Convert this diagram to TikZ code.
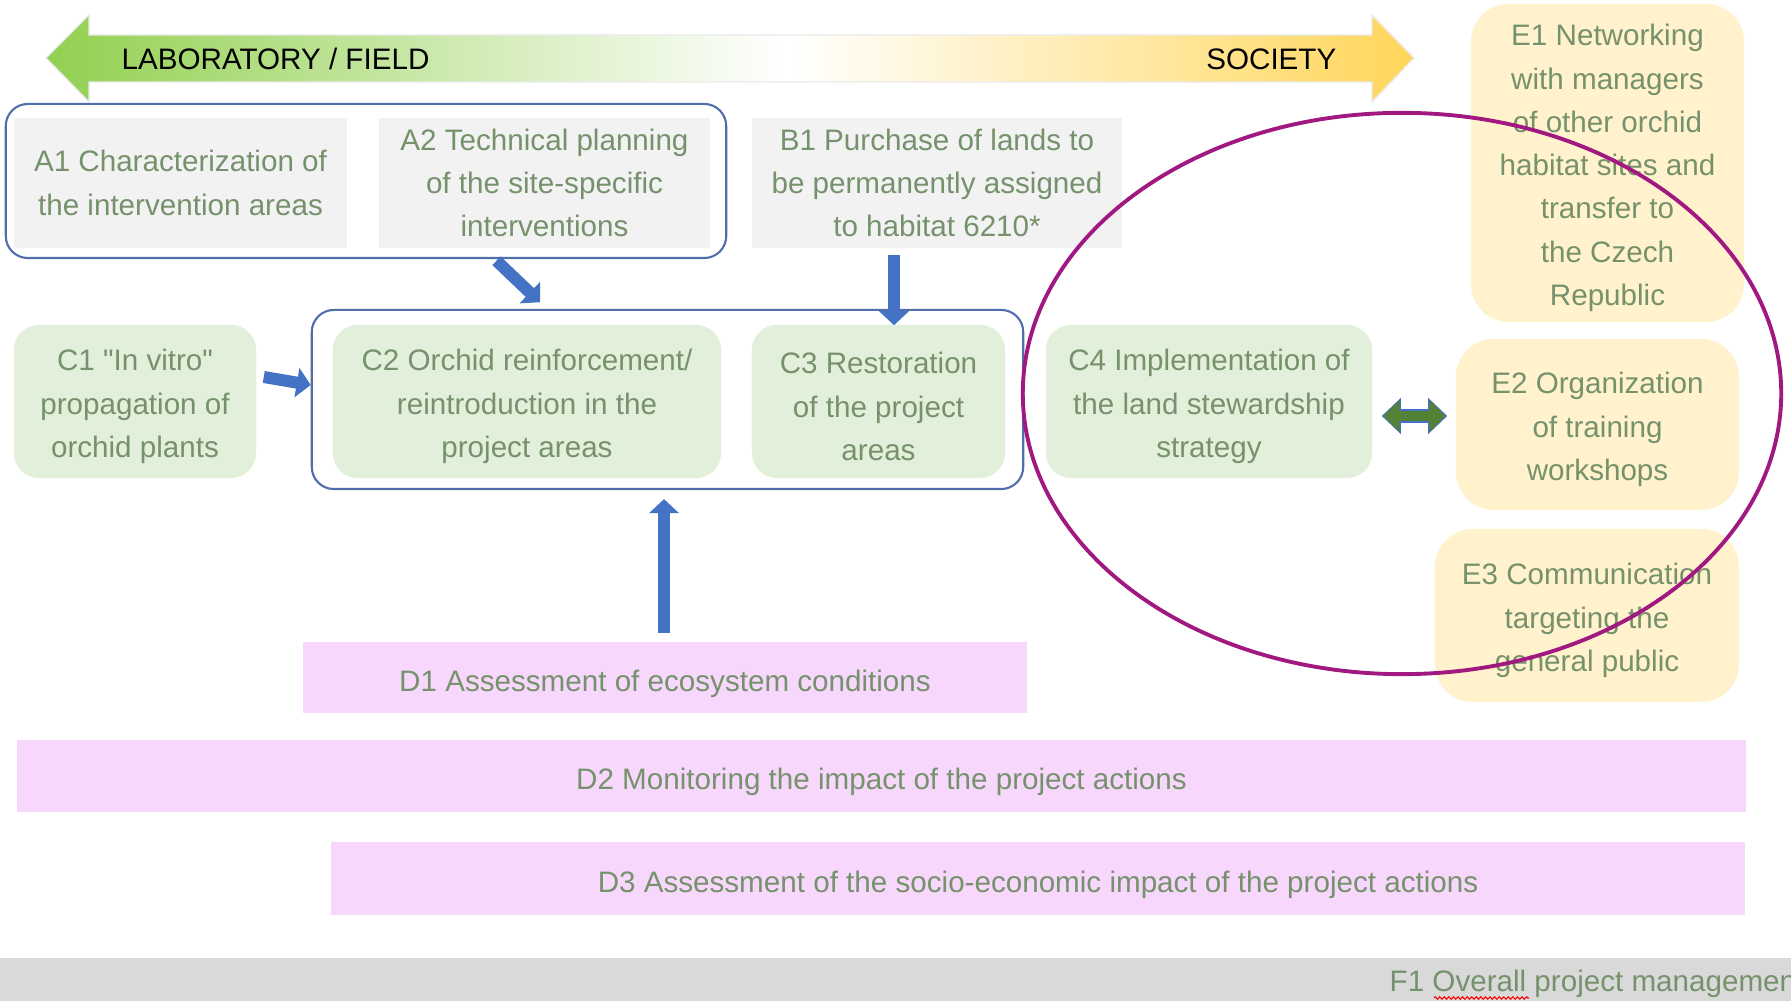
\documentclass[tikz,border=0pt]{standalone}
\usepackage{fontspec}
\setmainfont{Liberation Sans}
\usepackage{tikz}
\usetikzlibrary{calc}
\usetikzlibrary{arrows.meta}
\usetikzlibrary{decorations.pathmorphing}

\definecolor{txtgreen}{RGB}{118,146,108}
\definecolor{greyfill}{RGB}{242,242,242}
\definecolor{cfill}{RGB}{226,239,218}
\definecolor{efill}{RGB}{255,242,204}
\definecolor{dfill}{RGB}{247,215,252}
\definecolor{footgrey}{RGB}{217,217,217}
\definecolor{linkblue}{RGB}{68,114,196}
\definecolor{frameblue}{RGB}{80,110,170}
\definecolor{darkgreen}{RGB}{84,130,53}
\definecolor{ringpurple}{RGB}{160,24,128}
\definecolor{labgreen}{RGB}{146,208,80}
\definecolor{socyellow}{RGB}{255,214,90}

\pgfdeclarehorizontalshading{labsociety}{100bp}{color(0bp)=(labgreen); color(25bp)=(labgreen); color(52bp)=(white); color(75bp)=(socyellow); color(100bp)=(socyellow)}

\newcommand{\boxlift}{\rule{0pt}{9pt}}

\tikzset{
  box/.style={align=center, inner sep=0pt, text=txtgreen, font=\fontsize{8.42pt}{12.3pt}\selectfont},
  abox/.style={box, fill=greyfill},
  cbox/.style={box, fill=cfill, rounded corners=0.25cm},
  ebox/.style={box, fill=efill, rounded corners=0.38cm},
  dbox/.style={box, fill=dfill, execute at begin node={\rule{0pt}{9.5pt}}},
  group/.style={draw=frameblue, line width=0.6pt, rounded corners=0.22cm, inner sep=0pt},
  blockarrow/.style={draw=linkblue, line width=0.12cm, -{Triangle[length=0.14cm, width=0.29cm]}},
}

\begin{document}
\begin{tikzpicture}[x=0.01cm, y=-0.01cm]

\fill[white] (0,0) rectangle (1791,1001);
\useasboundingbox (0,0) rectangle (1791,1001);

% banner
\shade[shading=labsociety, draw=black!8] (46,58) -- (89,15) -- (89,35) -- (1372,35) -- (1372,15) -- (1414,58) -- (1372,102) -- (1372,82) -- (89,82) -- (89,102) -- cycle;
\node[box, text=black, anchor=base west] (lab) at (121,70) {LABORATORY / FIELD};
\node[box, text=black, anchor=base east] (soc) at (1337,70) {SOCIETY};

% groups
\node[group, minimum width=7.2cm, minimum height=1.54cm] (grpA) at (366,181) {};
\node[group, minimum width=7.11cm, minimum height=1.79cm] (grpC) at (667.5,399.5) {};

\node[abox, minimum width=3.33cm, minimum height=1.3cm] (A1) at (180.5,183) {A1 Characterization of\\the intervention areas};
\node[abox, minimum width=3.31cm, minimum height=1.3cm] (A2) at (544.5,183) {A2 Technical planning\\of the site-specific\\interventions};
\node[abox, minimum width=3.7cm, minimum height=1.3cm] (B1) at (937,183) {B1 Purchase of lands to\\be permanently assigned\\to habitat 6210*};

\node[cbox, minimum width=2.42cm, minimum height=1.53cm] (C1) at (135,401.5) {\boxlift C1 \textquotedbl In vitro\textquotedbl\\propagation of\\orchid plants};
\node[cbox, minimum width=3.88cm, minimum height=1.53cm] (C2) at (527,401.5) {\boxlift C2 Orchid reinforcement/\\reintroduction in the\\project areas};
\node[cbox, minimum width=2.53cm, minimum height=1.53cm] (C3) at (878.5,401.5) {\boxlift C3 Restoration\\of the project\\areas};
\node[cbox, minimum width=3.26cm, minimum height=1.53cm] (C4) at (1209,401.5) {\boxlift C4 Implementation of\\the land stewardship\\strategy};

\node[ebox, minimum width=2.73cm, minimum height=3.18cm] (E1) at (1607.5,163) {\boxlift E1 Networking\\with managers\\of other orchid\\habitat sites and\\transfer to\\the Czech\\Republic};
\node[ebox, minimum width=2.83cm, minimum height=1.71cm] (E2) at (1597.5,424.5) {\boxlift E2 Organization\\of training\\workshops};
\node[ebox, minimum width=3.04cm, minimum height=1.73cm] (E3) at (1587,615.5) {\boxlift E3 Communication\\targeting the\\general public};

\node[dbox, minimum width=7.24cm, minimum height=0.71cm] (D1) at (665,677.5) {D1 Assessment of ecosystem conditions};
\node[dbox, minimum width=17.27cm, minimum height=0.72cm] (D2) at (881.5,776) {D2 Monitoring the impact of the project actions};
\node[dbox, minimum width=14.14cm, minimum height=0.73cm] (D3) at (1038,878.5) {D3 Assessment of the socio-economic impact of the project actions};

% footer
\fill[footgrey] (0,958) rectangle (1791,1001);
\begin{scope}
\clip (0,0) rectangle (1791,1001);
\node[box, anchor=west] (F1) at (1389,984) {F1 Overall project management};
\end{scope}
\draw[red, line width=0.3pt, decorate, decoration={zigzag, amplitude=0.35pt, segment length=1.3pt}] ($(F1.west)+(45,14)$) -- ($(F1.west)+(140,14)$);

% arrows
\draw[blockarrow] ($(A2.south)+(-48,12)$) -- ($(C2.north)+(13,-22)$);
\draw[blockarrow] ($(B1.south)+(-43,6)$) -- ($(C3.north)+(15.5,1)$);
\draw[blockarrow] ($(C1.east)+(7,-24.5)$) -- ($(grpC.west)+(0,-14.5)$);
\draw[blockarrow] ($(D1.north)+(-1,-8)$) -- ($(grpC.south)+(-3.5,9)$);

\draw[linkblue, line width=0.135cm, {Triangle[length=0.19cm, width=0.35cm]}-{Triangle[length=0.19cm, width=0.35cm]}] ($(C4.east)+(9,14.5)$) -- ($(E2.west)+(-8,-8.5)$);
\draw[darkgreen, line width=0.105cm, shorten <=0.018cm, shorten >=0.018cm, {Triangle[length=0.16cm, width=0.31cm]}-{Triangle[length=0.16cm, width=0.31cm]}] ($(C4.east)+(9,14.5)$) -- ($(E2.west)+(-8,-8.5)$);

% ring
\draw[ringpurple, line width=1.1pt] (1402,393.5) ellipse [x radius=3.79cm, y radius=2.805cm];

\end{tikzpicture}
\end{document}
